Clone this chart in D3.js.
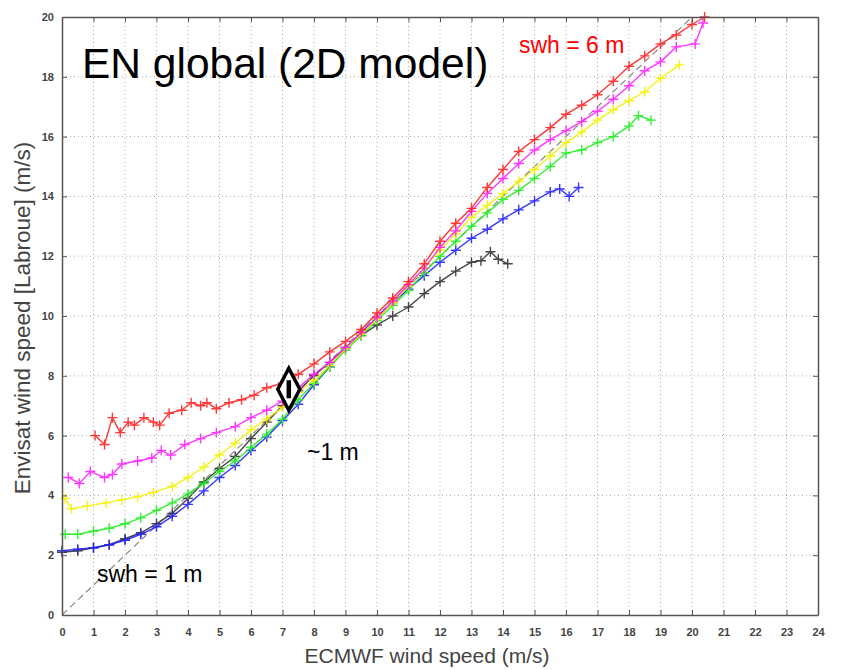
<!DOCTYPE html>
<html>
<head>
<meta charset="utf-8">
<script src="https://cdn.jsdelivr.net/npm/d3@7"></script>
<style>
  body { margin: 0; background: #fff; }
  svg { display: block; font-family: "Liberation Sans", Arial, sans-serif; }
  .axis text { font-size: 11px; font-weight: bold; fill: #444; }
  .axis line, .axis path { stroke: #555; }
</style>
</head>
<body>
<div id="chart"></div>
<script>
// ECMWF wind speed (x) vs Envisat wind speed (y), one series per swh class
var swhBlack = [[0,2.1],[0.5,2.15],[1,2.25],[1.5,2.35],[2,2.55],[2.5,2.75],[3,3.05],[3.5,3.4],[4,3.9],[4.5,4.45],
  [5,4.9],[5.5,5.3],[6,5.9],[6.5,6.45],[7,7.0],[7.5,7.5],[8,8.0],[8.5,8.45],[9,8.95],[9.5,9.35],[10,9.7],
  [10.5,10.0],[11,10.3],[11.5,10.75],[12,11.15],[12.5,11.5],[13,11.8],[13.3,11.85],[13.6,12.15],[13.85,11.9],[14.15,11.75]];
var swhBlue = [[0,2.15],[0.5,2.2],[1,2.25],[1.5,2.35],[2,2.5],[2.5,2.7],[3,2.95],[3.5,3.3],[4,3.7],[4.5,4.15],
  [5,4.6],[5.5,5.0],[6,5.5],[6.5,5.95],[7,6.5],[7.5,7.05],[8,7.7],[8.5,8.3],[9,8.9],[9.5,9.45],[10,9.95],
  [10.5,10.45],[11,10.9],[11.5,11.35],[12,11.8],[12.5,12.2],[13,12.6],[13.5,12.9],[14,13.25],[14.5,13.55],
  [15,13.85],[15.5,14.15],[15.8,14.25],[16.1,14.0],[16.4,14.3]];
var swhGreen = [[0.1,2.7],[0.5,2.7],[1,2.8],[1.5,2.9],[2,3.05],[2.5,3.25],[3,3.5],[3.5,3.75],[4,4.05],[4.5,4.4],
  [5,4.8],[5.5,5.15],[6,5.6],[6.5,6.05],[7,6.55],[7.5,7.2],[8,7.75],[8.5,8.3],[9,8.85],[9.5,9.35],[10,9.85],
  [10.5,10.35],[11,10.85],[11.5,11.45],[12,12.0],[12.5,12.5],[13,13.0],[13.5,13.45],[14,13.9],[14.5,14.2],
  [15,14.6],[15.5,15.0],[16,15.45],[16.5,15.55],[17,15.8],[17.5,16.0],[18,16.35],[18.3,16.7],[18.7,16.55]];
var swhYellow = [[0.1,3.9],[0.3,3.55],[0.8,3.65],[1.4,3.75],[1.9,3.85],[2.4,3.95],[2.9,4.1],[3.5,4.3],[4,4.6],
  [4.5,4.95],[5,5.35],[5.5,5.75],[6,6.2],[6.5,6.55],[7,6.95],[7.5,7.45],[8,7.85],[8.5,8.35],[9,8.9],[9.5,9.4],
  [10,9.9],[10.5,10.45],[11,11.0],[11.5,11.6],[12,12.2],[12.5,12.75],[13,13.3],[13.5,13.7],[14,14.1],[14.5,14.5],
  [15,14.9],[15.5,15.35],[16,15.8],[16.5,16.15],[17,16.55],[17.5,16.9],[18,17.2],[18.5,17.5],[19,17.95],[19.6,18.4]];
var swhMagenta = [[0.2,4.6],[0.55,4.4],[0.9,4.8],[1.35,4.6],[1.6,4.7],[1.9,5.05],[2.4,5.15],[2.85,5.25],[3.15,5.5],
  [3.45,5.35],[3.9,5.7],[4.4,5.9],[4.9,6.1],[5.5,6.3],[6,6.6],[6.5,6.85],[7,7.15],[7.5,7.6],[8,8.05],[8.5,8.45],
  [9,8.95],[9.5,9.45],[10,9.95],[10.5,10.5],[11,11.05],[11.5,11.6],[12,12.3],[12.5,12.85],[13,13.5],[13.5,14.1],
  [14,14.6],[14.5,15.1],[15,15.55],[15.5,15.9],[16,16.2],[16.5,16.5],[17,16.85],[17.5,17.25],[18,17.7],
  [18.5,18.2],[19,18.5],[19.5,19.0],[20.1,19.1],[20.35,19.8]];
var swhRed = [[1.05,6.0],[1.35,5.7],[1.6,6.6],[1.85,6.1],[2.1,6.45],[2.3,6.35],[2.6,6.6],[2.9,6.45],[3.1,6.35],
  [3.4,6.75],[3.8,6.85],[4.1,7.1],[4.4,7.0],[4.6,7.1],[4.9,6.9],[5.3,7.1],[5.7,7.2],[6.1,7.35],[6.5,7.6],
  [7,7.75],[7.5,8.05],[8,8.4],[8.5,8.8],[9,9.15],[9.5,9.55],[10,10.1],[10.5,10.6],[11,11.15],[11.5,11.75],
  [12,12.5],[12.5,13.1],[13,13.6],[13.5,14.3],[14,14.9],[14.5,15.5],[15,15.9],[15.5,16.3],[16,16.75],
  [16.5,17.05],[17,17.4],[17.5,17.85],[18,18.35],[18.5,18.7],[19,19.1],[19.5,19.4],[20,19.75],[20.4,20.0]];

var seriesList = [
  { data: swhBlack, color: '#333333' },
  { data: swhBlue, color: '#2222ff' },
  { data: swhGreen, color: '#22ee22' },
  { data: swhYellow, color: '#f2f200' },
  { data: swhMagenta, color: '#ff22ff' },
  { data: swhRed, color: '#ff2222' }
];

var xTicks = d3.range(0, 25);
var yTicks = d3.range(0, 21, 2);
var oneToOne = [[0, 0], [20, 20]];
var diamondPt = [7.2, 7.55];

var width = 846, height = 670;
var margin = { top: 17, right: 28, bottom: 55, left: 62 };

var x = d3.scaleLinear().domain([0, 24]).range([margin.left, width - margin.right]);
var y = d3.scaleLinear().domain([0, 20]).range([height - margin.bottom, margin.top]);

var svg = d3.select('#chart').append('svg')
  .attr('width', width)
  .attr('height', height);

svg.append('rect').attr('width', width).attr('height', height).attr('fill', '#fff');

// dotted grid
svg.append('g').selectAll('line.vgrid')
  .data(xTicks.slice(1, -1))
  .enter().append('line')
  .attr('x1', d => x(d)).attr('x2', d => x(d))
  .attr('y1', y(0)).attr('y2', y(20))
  .attr('stroke', '#aaa').attr('stroke-dasharray', '1,3');

svg.append('g').selectAll('line.hgrid')
  .data(yTicks.slice(1, -1))
  .enter().append('line')
  .attr('x1', x(0)).attr('x2', x(24))
  .attr('y1', d => y(d)).attr('y2', d => y(d))
  .attr('stroke', '#aaa').attr('stroke-dasharray', '1,3');

// y = x reference
svg.append('line')
  .attr('x1', x(oneToOne[0][0])).attr('y1', y(oneToOne[0][1]))
  .attr('x2', x(oneToOne[1][0])).attr('y2', y(oneToOne[1][1]))
  .attr('stroke', '#888').attr('stroke-width', 1.2).attr('stroke-dasharray', '7,4');

var line = d3.line().x(d => x(d[0])).y(d => y(d[1]));

seriesList.forEach(function (s) {
  var g = svg.append('g').attr('opacity', 0.9);
  g.append('path')
    .datum(s.data)
    .attr('d', line)
    .attr('fill', 'none')
    .attr('stroke', s.color)
    .attr('stroke-width', 1.4);
  g.selectAll('path.plus')
    .data(s.data)
    .enter().append('path')
    .attr('class', 'plus')
    .attr('d', d => {
      var cx = x(d[0]), cy = y(d[1]), r = 5;
      return `M${cx - r},${cy}H${cx + r}M${cx},${cy - r}V${cy + r}`;
    })
    .attr('stroke', s.color)
    .attr('stroke-width', 1.4);
});

// axes, ticks pointing inside
svg.append('g').attr('class', 'axis')
  .attr('transform', `translate(0, ${y(0)})`)
  .call(d3.axisBottom(x).tickValues(xTicks).tickSizeInner(-5).tickSizeOuter(0).tickPadding(13));
svg.append('g').attr('class', 'axis')
  .attr('transform', `translate(0, ${y(20)})`)
  .call(d3.axisTop(x).tickValues(xTicks).tickSizeInner(-5).tickSizeOuter(0).tickFormat(''));
svg.append('g').attr('class', 'axis')
  .attr('transform', `translate(${x(0)}, 0)`)
  .call(d3.axisLeft(y).tickValues(yTicks).tickSizeInner(-5).tickSizeOuter(0).tickPadding(8));
svg.append('g').attr('class', 'axis')
  .attr('transform', `translate(${x(24)}, 0)`)
  .call(d3.axisRight(y).tickValues(yTicks).tickSizeInner(-5).tickSizeOuter(0).tickFormat(''));
svg.selectAll('.axis path.domain').attr('stroke-width', 1.5);

// diamond marker
var dx = x(diamondPt[0]), dy = y(diamondPt[1]);
svg.append('path')
  .attr('d', `M${dx},${dy - 21}L${dx + 11},${dy}L${dx},${dy + 21}L${dx - 11},${dy}Z`)
  .attr('fill', '#fff').attr('stroke', '#000').attr('stroke-width', 3.5);
svg.append('line')
  .attr('x1', dx).attr('x2', dx).attr('y1', dy - 9).attr('y2', dy + 9)
  .attr('stroke', '#000').attr('stroke-width', 4.5);

// texts
svg.append('text')
  .attr('x', 82).attr('y', 78)
  .attr('font-size', 42.5).attr('fill', '#000')
  .text('EN global (2D model)');
svg.append('text')
  .attr('x', 519).attr('y', 53)
  .attr('font-size', 23).attr('fill', '#ff0000')
  .text('swh = 6 m');
svg.append('text')
  .attr('x', 97).attr('y', 582)
  .attr('font-size', 23).attr('fill', '#000')
  .text('swh = 1 m');
svg.append('text')
  .attr('x', 307).attr('y', 460)
  .attr('font-size', 23).attr('fill', '#000')
  .text('~1 m');

svg.append('text')
  .attr('x', 427).attr('y', 663)
  .attr('text-anchor', 'middle')
  .attr('font-size', 21).attr('fill', '#444')
  .text('ECMWF wind speed (m/s)');
svg.append('text')
  .attr('transform', `translate(30, 318) rotate(-90)`)
  .attr('text-anchor', 'middle')
  .attr('font-size', 22.5).attr('fill', '#444')
  .text('Envisat wind speed [Labroue] (m/s)');
</script>
</body>
</html>
